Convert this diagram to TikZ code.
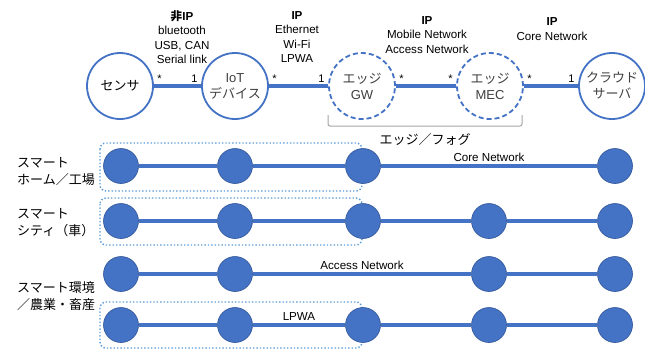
\documentclass[tikz,border=0pt]{standalone}
\usepackage{fontspec}
\setmainfont{Liberation Sans}
\newfontfamily\jp{Noto Sans CJK JP}
\usetikzlibrary{backgrounds}
\definecolor{lblue}{HTML}{4472C4}
\definecolor{dblue}{HTML}{2F5597}
\definecolor{dotblue}{HTML}{5B9BD5}
\definecolor{brgray}{HTML}{A5A5A5}
\definecolor{txtgray}{HTML}{404040}
\begin{document}
\begin{tikzpicture}[x=1pt,y=-1pt,
  link/.style={draw=lblue, line width=3.1pt},
  topnode/.style={circle, draw=lblue, line width=1.8pt, fill=white, minimum size=66pt, inner sep=0pt, align=center, font=\fontsize{13}{16}\selectfont, text=txtgray},
  edgenode/.style={topnode, dash pattern=on 5pt off 3pt},
  dotnode/.style={circle, fill=lblue, draw=dblue, line width=0.6pt, minimum size=35pt, inner sep=0pt},
  dotbox/.style={draw=dotblue, line width=1.4pt, dotted, rounded corners=6pt},
  lab/.style={font=\fontsize{11.6}{14.5}\selectfont, align=center},
  mult/.style={font=\fontsize{11}{12}\selectfont, inner sep=2pt},
  side/.style={font=\jp\fontsize{13}{17}\selectfont, align=left, anchor=west, inner sep=0pt},
  netlab/.style={font=\fontsize{11.6}{13}\selectfont, above, inner sep=3pt}
]
\useasboundingbox (0,0) rectangle (645,349);

% ---- top chain ----
\node[topnode, text=black] (s) at (120,86) {\jp センサ};
\node[topnode] (iot) at (235,86) {IoT\\{\jp デバイス}};
\node[edgenode] (gw) at (362,86) {{\jp エッジ}\\GW};
\node[edgenode] (mec) at (490,86) {{\jp エッジ}\\MEC};
\node[topnode] (cloud) at (612,86) {{\jp クラウド}\\{\jp サーバ}};

\begin{scope}[on background layer]
\draw[link] (s) -- node[pos=0, mult, above right] {*} node[pos=1, mult, above left] {1} (iot);
\draw[link] (iot) -- node[pos=0, mult, above right] {*} node[pos=1, mult, above left] {1} (gw);
\draw[link] (gw) -- node[pos=0, mult, above right] {*} node[pos=1, mult, above left] {*} (mec);
\draw[link] (mec) -- node[pos=0, mult, above right] {*} node[pos=1, mult, above left] {1} (cloud);
\end{scope}

\node[lab] (l1) at (182,37) {{\jp\bfseries 非}\textbf{IP}\\bluetooth\\USB, CAN\\Serial link};
\node[lab] (l2) at (297,37) {\textbf{IP}\\Ethernet\\Wi-Fi\\LPWA};
\node[lab] (l3) at (427,35) {\textbf{IP}\\Mobile Network\\Access Network};
\node[lab] (l4) at (552,29) {\textbf{IP}\\Core Network};

% bracket
\draw[brgray, line width=1pt, rounded corners=2pt] (328,115) -- (328,126) -- (522,126) -- (522,115);
\node[font=\jp\fontsize{13}{15}\selectfont] (fog) at (425,140) {エッジ／フォグ};

% ---- rows ----
\foreach \n/\x in {a/121,b/235,c/363,e/615} \node[dotnode] (r1\n) at (\x,166) {};
\foreach \n/\x in {a/121,b/235,c/363,d/489,e/615} \node[dotnode] (r2\n) at (\x,221) {};
\foreach \n/\x in {a/121,b/235,d/489,e/615} \node[dotnode] (r3\n) at (\x,274) {};
\foreach \n/\x in {a/121,b/235,c/363,d/489,e/615} \node[dotnode] (r4\n) at (\x,325) {};

\begin{scope}[on background layer]
\draw[dotbox] (100,143) rectangle (362,191);
\draw[dotbox] (100,198) rectangle (362,245);
\draw[dotbox] (100,302) rectangle (362,348);
\draw[link] (r1a) -- (r1b) -- (r1c) -- node[netlab] {Core Network} (r1e);
\draw[link] (r2a) -- (r2b) -- (r2c) -- (r2d) -- (r2e);
\draw[link] (r3a) -- (r3b) -- node[netlab] {Access Network} (r3d) -- (r3e);
\draw[link] (r4a) -- (r4b) -- node[netlab] {LPWA} (r4c) -- (r4d) -- (r4e);
\end{scope}

\node[side] (t1) at (17,171.5) {スマート\\ホーム／工場};
\node[side] (t2) at (17,222.5) {スマート\\シティ（車）};
\node[side] (t3) at (17,296.5) {スマート環境\\／農業・畜産};
\end{tikzpicture}
\end{document}
